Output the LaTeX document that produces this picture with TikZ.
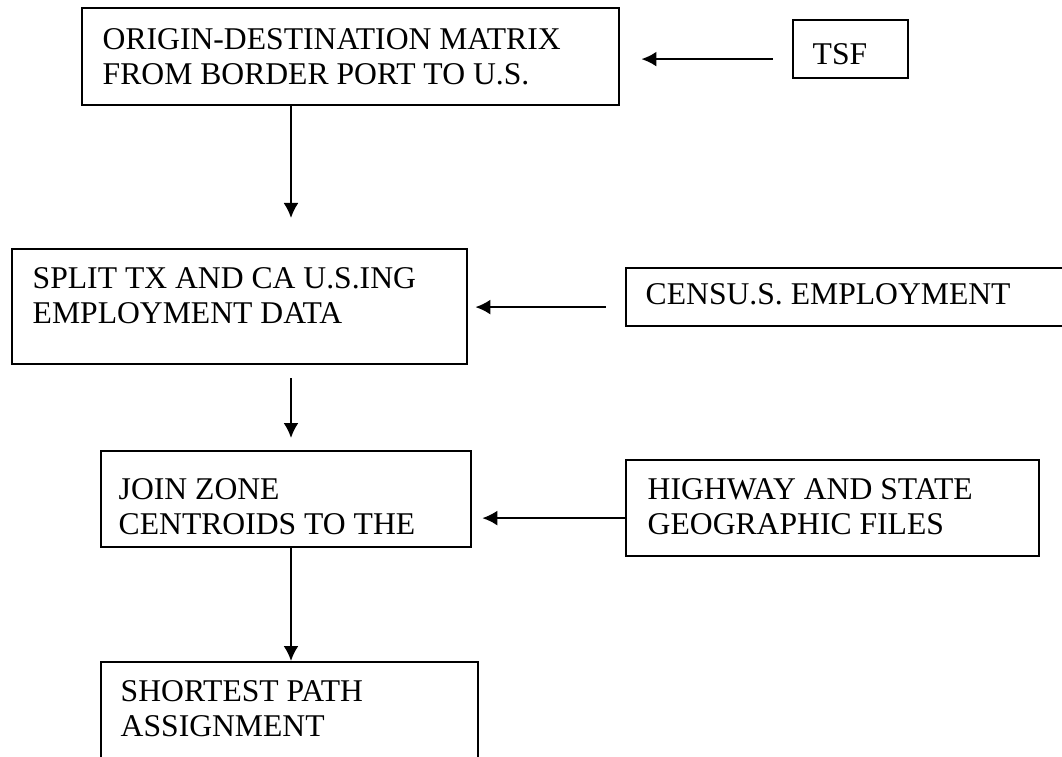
\documentclass[tikz,border=0pt]{standalone}
\usepackage{fontspec}
\setmainfont{Liberation Serif}
\usetikzlibrary{positioning,arrows.meta}

\tikzset{
  box/.style={draw, line width=0.6pt, anchor=north west, inner sep=0pt},
  txt/.style={align=left, inner sep=0pt, font=\fontsize{9}{10}\selectfont},
  flow/.style={line width=0.6pt, -{Latex[length=1.5mm,width=1.5mm]}},
}

\begin{document}
\begin{tikzpicture}[x=0.01cm, y=-0.01cm]
\useasboundingbox (0,0) rectangle (1062,756);
\clip (0,0) rectangle (1062,756);
% main chain down the left
\path (81,7) node[box, minimum width=5.37cm, minimum height=0.97cm] (odm) {};
\path (11,248) node[box, minimum width=4.55cm, minimum height=1.15cm] (split) {};
\path (100,450) node[box, minimum width=3.7cm, minimum height=0.96cm] (join) {};
\path (100,661) node[box, minimum width=3.77cm, minimum height=1.0cm] (spa) {};
% inputs on the right
\path (792,19) node[box, minimum width=1.15cm, minimum height=0.58cm] (tsf) {};
\path (625,267) node[box, minimum width=4.6cm, minimum height=0.58cm] (census) {};
\path (625,459) node[box, minimum width=4.13cm, minimum height=0.96cm] (hwy) {};
% box texts
\node[txt, below right=0.21cm and 0.21cm of odm.north west] (odmtext) {ORIGIN-DESTINATION MATRIX\\FROM BORDER PORT TO U.S.};
\node[txt, below right=0.19cm and 0.21cm of split.north west] (splittext) {SPLIT TX AND CA U.S.ING\\EMPLOYMENT DATA};
\node[txt, below right=0.28cm and 0.18cm of join.north west] (jointext) {JOIN ZONE\\CENTROIDS TO THE};
\node[txt, below right=0.19cm and 0.2cm of spa.north west] (spatext) {SHORTEST PATH\\ASSIGNMENT};
\node[txt, below right=0.24cm and 0.2cm of tsf.north west] (tsftext) {TSF};
\node[txt, below right=0.16cm and 0.2cm of census.north west] (censustext) {CENSU.S. EMPLOYMENT};
\node[txt, below right=0.19cm and 0.22cm of hwy.north west] (hwytext) {HIGHWAY AND STATE\\GEOGRAPHIC FILES};
% arrows
\coordinate (spine) at (291,0);
\coordinate (t1) at ([yshift=-0.1cm]tsf.west);
\coordinate (t2) at ([yshift=-0.1cm]census.west);
\coordinate (t3) at ([yshift=-0.1cm]hwy.west);
\draw [flow, shorten <=0.19cm, shorten >=0.21cm] (t1) -- (t1 -| odm.east);
\draw [flow, shorten >=0.3cm] (odm.south -| spine) -- (split.north -| spine);
\draw [flow, shorten <=0.19cm, shorten >=0.07cm] (t2) -- (t2 -| split.east);
\draw [flow, shorten <=0.13cm, shorten >=0.12cm] (split.south -| spine) -- (join.north -| spine);
\draw [flow, shorten >=0.1cm] (t3) -- (t3 -| join.east);
\draw [flow] (join.south -| spine) -- (spa.north -| spine);
\end{tikzpicture}
\end{document}
